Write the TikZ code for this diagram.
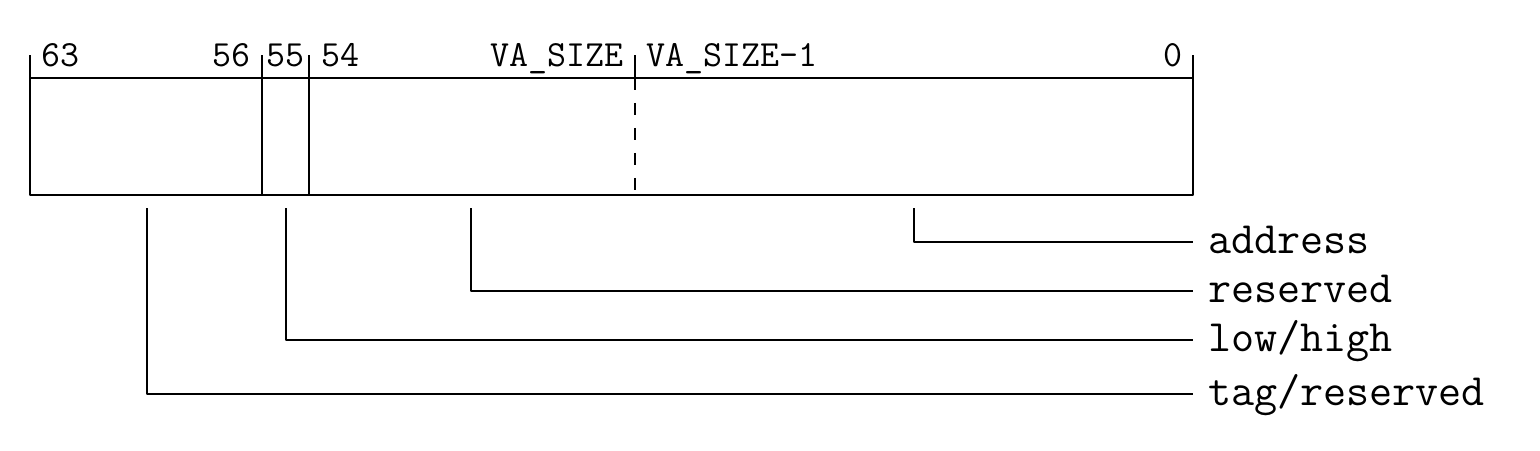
\documentclass[tikz,border=0pt]{standalone}
\usepackage{fontspec}
\begin{document}
\begin{tikzpicture}[x=0.02cm,y=-0.02cm,line width=1.1pt,line join=round,
	bit/.style={font=\ttfamily\fontsize{21}{23}\selectfont,inner sep=0pt},
	field/.style={font=\ttfamily\fontsize{25.5}{28}\selectfont,anchor=base west,inner xsep=8pt,inner ysep=0pt}]
	\useasboundingbox (0,0) rectangle (1540,450);
	% register
	\draw (30,78) rectangle (1193,195);
	\draw (30,55)--(30,78) (262,55)--(262,195) (309,55)--(309,195) (1193,55)--(1193,78);
	\draw (635,55)--(635,78);
	\draw[dash pattern=on 6.8pt off 7.4pt] (635,78)--(635,195);
	% bit numbers
	\node[bit,anchor=base west] (b63) at (40.5,66) {63};
	\node[bit,anchor=base east] (b56) at (251,66) {56};
	\node[bit,anchor=base west] (b55) at (265.5,66) {55};
	\node[bit,anchor=base west] (b54) at (320.5,66) {54};
	\node[bit,anchor=base east] (bva) at (624,66) {VA\_SIZE};
	\node[bit,anchor=base west] (bva1) at (646,66) {VA\_SIZE-1};
	\node[bit,anchor=base east] (b0) at (1183,66) {0};
	% fields
	\node[field] (addr) at (1193,253) {address};
	\node[field] (res) at (1193,302) {reserved};
	\node[field] (lh) at (1193,351) {low/high};
	\node[field] (tag) at (1193,405) {tag/reserved};
	\coordinate (paddr) at (914,208);
	\coordinate (pres) at (471,208);
	\coordinate (plh) at (286,208);
	\coordinate (ptag) at (147,208);
	\draw (paddr) |- ([yshift=6.3pt]addr.base west);
	\draw (pres) |- ([yshift=6.3pt]res.base west);
	\draw (plh) |- ([yshift=6.3pt]lh.base west);
	\draw (ptag) |- ([yshift=6.3pt]tag.base west);
\end{tikzpicture}
\end{document}
